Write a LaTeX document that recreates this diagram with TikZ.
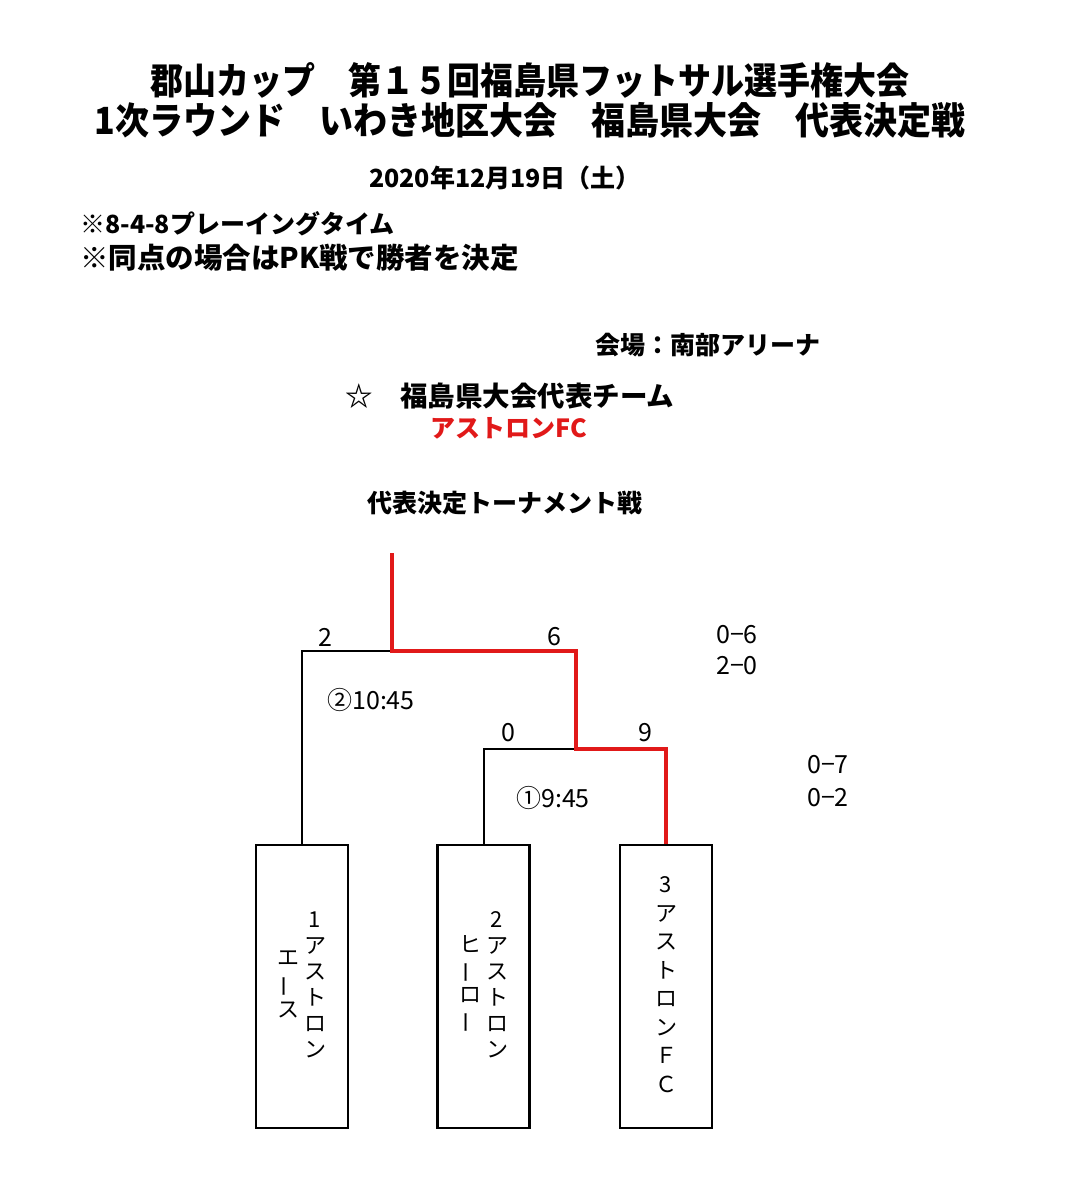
\documentclass[tikz,border=0pt]{standalone}
\usepackage{fontspec}
\newfontfamily\jp{Noto Sans CJK JP}
\definecolor{winred}{RGB}{225,25,25}
\newcommand\vlong{\rotatebox[origin=c]{90}{ー}}
\newcommand\vcolumn[2]{{\fontsize{22}{#1}\selectfont\begin{tabular}{@{}c@{}}#2\end{tabular}}}
\tikzset{
  txt/.style={inner sep=0pt, font=\jp},
  titletxt/.style={txt, font=\jp\bfseries\fontsize{33}{36}\selectfont},
  headtxt/.style={txt, font=\jp\bfseries\fontsize{25}{28}\selectfont},
  scoretxt/.style={txt, font=\jp\fontsize{25}{28}\selectfont},
  coltxt/.style={inner sep=0pt, font=\jp},
  teambox/.style={draw, line width=2.5pt, minimum width=92pt, minimum height=283pt, inner sep=0pt},
  bracket/.style={line width=2pt, line join=miter},
  winner/.style={line width=4pt, draw=winred, line join=miter}
}
\begin{document}
\begin{tikzpicture}[x=1pt,y=-1pt]
\useasboundingbox[fill=white] (0,0) rectangle (1080,1195);
% titles
\node[titletxt] (t1) at (530,80) {\scalebox{1}[1.12]{郡山カップ　第１５回福島県フットサル選手権大会}};
\node[titletxt, font=\jp\bfseries\fontsize{34}{36}\selectfont] (t2) at (530,120) {\scalebox{1}[1.1]{1次ラウンド　いわき地区大会　福島県大会　代表決定戦}};
\node[headtxt] (date) at (505,178) {2020年12月19日（土）};
\node[headtxt, anchor=west] (n1) at (80,224) {※8-4-8プレーイングタイム};
\node[headtxt, anchor=west, font=\jp\bfseries\fontsize{28.5}{30}\selectfont] (n2) at (80,258) {※同点の場合はPK戦で勝者を決定};
\node[headtxt, anchor=west] (venue) at (595,345) {会場：南部アリーナ};
\node[headtxt, anchor=west, font=\jp\bfseries\fontsize{27.5}{30}\selectfont] (rep) at (345,396) {☆　福島県大会代表チーム};
\node[headtxt, anchor=west, text=winred] (team) at (430,428) {アストロンFC};
\node[headtxt, anchor=west] (tour) at (367,503) {代表決定トーナメント戦};
% boxes
\node[teambox] (b1) at (302,986.5) {};
\node[teambox] (b2) at (483.5,986.5) {};
\node[teambox] (b3) at (666,986.5) {};
\node[coltxt] (b1r) at (315,987) {\vcolumn{26}{1\\ア\\ス\\ト\\ロ\\ン}};
\node[coltxt] (b1l) at (288,986) {\vcolumn{26}{エ\\\vlong\\ス}};
\node[coltxt] (b2r) at (497,987) {\vcolumn{26}{2\\ア\\ス\\ト\\ロ\\ン}};
\node[coltxt] (b2l) at (470,985) {\vcolumn{25}{ヒ\\\vlong\\ロ\\\vlong}};
\node[coltxt] (b3c) at (666,987) {\vcolumn{28.5}{3\\ア\\ス\\ト\\ロ\\ン\\Ｆ\\Ｃ}};
% bracket
\coordinate (top) at (392,553);
\coordinate (m2) at (392,651);
\coordinate (m1) at (576,749);
\draw[bracket] (b1.north) |- (m2);
\draw[bracket] (b2.north) |- (m1);
\draw[winner] (b3.north) |- (m1) |- (m2) -- (top);
% scores
\node[scoretxt] (s2) at (325,637) {2};
\node[scoretxt] (s6) at (554,637) {6};
\node[scoretxt] (s0) at (508,733) {0};
\node[scoretxt] (s9) at (645,733) {9};
\node[scoretxt] (g2) at (371,700) {②10:45};
\node[scoretxt] (g1) at (553,798) {①9:45};
\node[scoretxt] (r1) at (737,635) {0−6};
\node[scoretxt] (r2) at (737,666) {2−0};
\node[scoretxt] (r3) at (828,765) {0−7};
\node[scoretxt] (r4) at (828,798) {0−2};
\end{tikzpicture}
\end{document}
